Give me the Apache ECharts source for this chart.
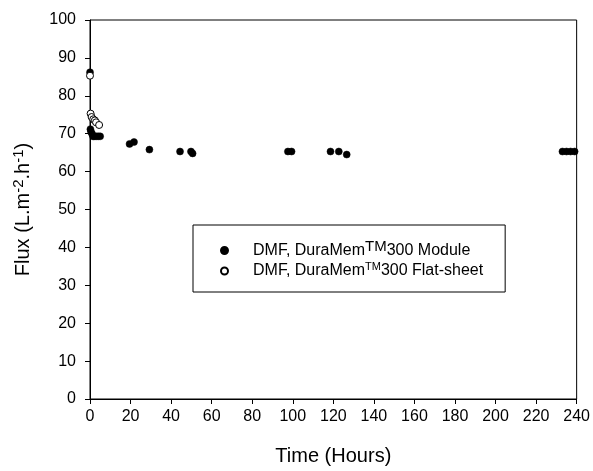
<!DOCTYPE html>
<html>
<head>
<meta charset="utf-8">
<script src="https://cdn.jsdelivr.net/npm/echarts@6/dist/echarts.min.js"></script>
<style>html,body{margin:0;padding:0;background:#fff}#c{width:593px;height:471px}</style>
</head>
<body>
<div id="c"></div>
<script>
// Module (filled circles): [time (h), flux]
const moduleTime = [0, 0.2, 0.5, 1, 1.5, 2, 3, 4, 5, 19.5, 21.7, 29.3, 44.4, 49.8, 50.6, 97.6, 99.4, 118.6, 122.7, 126.6, 233, 235, 237, 239];
const moduleFlux = [86.2, 71.2, 70.5, 70.0, 69.3, 69.3, 69.3, 69.3, 69.3, 67.3, 67.8, 65.8, 65.3, 65.3, 64.8, 65.3, 65.3, 65.3, 65.3, 64.5, 65.3, 65.3, 65.3, 65.3];
// Flat-sheet (open circles)
const flatTime = [0, 0.3, 0.8, 1.6, 2.4, 3.0, 4.5];
const flatFlux = [85.3, 75.3, 74.4, 73.8, 73.5, 73.0, 72.3];

const xTicks = {min: 0, max: 240, interval: 20};
const yTicks = {min: 0, max: 100, interval: 10};

const moduleName = 'DMF, DuraMem{supBig|TM}300 Module';
const flatName = 'DMF, DuraMem{sup|TM}300 Flat-sheet';

const font = '"Liberation Sans", Arial, sans-serif';
const chart = echarts.init(document.getElementById('c'));
chart.setOption({
  animation: false,
  textStyle: {fontFamily: font},
  grid: {left: 90, right: 12, top: 20, bottom: 71, show: true, borderColor: '#000', borderWidth: 1},
  legend: {
    orient: 'vertical',
    left: 193, top: 225,
    borderColor: '#000', borderWidth: 1,
    padding: [14, 22, 13, 27],
    itemGap: 3,
    itemWidth: 7, itemHeight: 7,
    formatter: name => '{g|}' + name,
    textStyle: {
      fontFamily: font, fontSize: 16, color: '#000',
      rich: {
        g: {width: 20},
        sup: {fontSize: 11, verticalAlign: 'top', padding: [0, 0, 8, 0], fontFamily: font, color: '#000'},
        supBig: {fontSize: 15, verticalAlign: 'top', padding: [0, 0, 8, 0], fontFamily: font, color: '#000'}
      }
    },
    data: [{name: moduleName, icon: 'circle'}, {name: flatName, icon: 'circle'}]
  },
  xAxis: {
    type: 'value', min: xTicks.min, max: xTicks.max, interval: xTicks.interval,
    name: 'Time (Hours)', nameLocation: 'middle', nameGap: 47,
    nameTextStyle: {fontSize: 20, color: '#000', fontFamily: font},
    axisLine: {show: true, lineStyle: {color: '#000'}},
    axisTick: {show: true, inside: false, length: 5, lineStyle: {color: '#000'}},
    axisLabel: {fontSize: 16, color: '#000', margin: 10, fontFamily: font},
    splitLine: {show: false}
  },
  yAxis: {
    type: 'value', min: yTicks.min, max: yTicks.max, interval: yTicks.interval,
    name: 'Flux (L.m{sup|-2}.h{sup|-1})', nameLocation: 'middle', nameGap: 54,
    nameTextStyle: {fontSize: 20, color: '#000', fontFamily: font,
      rich: {sup: {fontSize: 15, verticalAlign: 'top', padding: [0, 0, 10, 0], fontFamily: font, color: '#000'}}},
    axisLine: {show: true, lineStyle: {color: '#000'}},
    axisTick: {show: true, inside: false, length: 5, lineStyle: {color: '#000'}},
    axisLabel: {fontSize: 16, color: '#000', margin: 14, fontFamily: font},
    splitLine: {show: false}
  },
  series: [
    {
      name: moduleName, type: 'scatter', symbol: 'circle', symbolSize: 7,
      itemStyle: {color: '#000', borderColor: '#000', borderWidth: 0.5, opacity: 1},
      data: moduleTime.map((t, i) => [t, moduleFlux[i]]), z: 2
    },
    {
      name: flatName, type: 'scatter', symbol: 'circle', symbolSize: 7,
      itemStyle: {color: '#fff', borderColor: '#000', borderWidth: 1, opacity: 1},
      data: flatTime.map((t, i) => [t, flatFlux[i]]), z: 3
    }
  ]
});
</script>
</body>
</html>
